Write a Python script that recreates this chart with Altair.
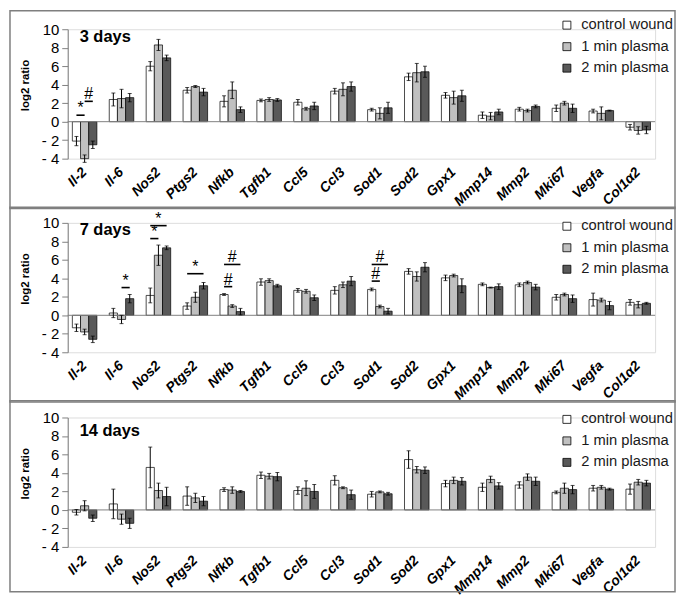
import altair as alt
import pandas as pd

genes = ["Il-2", "Il-6", "Nos2", "Ptgs2", "Nfkb", "Tgfb1", "Ccl5", "Ccl3",
         "Sod1", "Sod2", "Gpx1", "Mmp14", "Mmp2", "Mki67", "Vegfa", "Col1α2"]
series = ["control wound", "1 min plasma", "2 min plasma"]
series_colors = ["#ffffff", "#c0c0c0", "#595959"]
y_ticks = [-4, -2, 0, 2, 4, 6, 8, 10]

# ---- 3 days ----
d3_ctrl = [-2.1, 2.4, 6.0, 3.4, 2.2, 2.3, 2.1, 3.3, 1.3, 4.85, 2.85, 0.7, 1.35, 1.45, 1.15, -0.6]
d3_ctrl_err = [0.5, 0.7, 0.5, 0.3, 0.6, 0.15, 0.3, 0.3, 0.15, 0.4, 0.3, 0.35, 0.2, 0.35, 0.2, 0.3]
d3_p1 = [-4.0, 2.5, 8.3, 3.8, 3.4, 2.4, 1.4, 3.5, 0.9, 5.3, 2.6, 0.6, 1.2, 2.0, 0.9, -0.95]
d3_p1_err = [0.4, 1.0, 0.6, 0.1, 0.9, 0.2, 0.15, 0.7, 0.6, 1.0, 0.7, 0.4, 0.15, 0.2, 0.7, 0.4]
d3_p2 = [-2.5, 2.6, 6.9, 3.2, 1.3, 2.35, 1.7, 3.8, 1.5, 5.4, 2.8, 1.05, 1.65, 1.45, 1.2, -0.9]
d3_p2_err = [0.4, 0.45, 0.3, 0.4, 0.3, 0.15, 0.4, 0.5, 0.6, 0.6, 0.6, 0.3, 0.15, 0.45, 0.05, 0.4]

# ---- 7 days ----
d7_ctrl = [-1.35, 0.25, 2.15, 1.0, 2.25, 3.6, 2.7, 2.7, 2.8, 4.75, 4.05, 3.35, 3.3, 1.95, 1.7, 1.4]
d7_ctrl_err = [0.4, 0.5, 0.8, 0.35, 0.1, 0.35, 0.2, 0.4, 0.15, 0.3, 0.3, 0.15, 0.2, 0.3, 0.7, 0.3]
d7_p1 = [-1.8, -0.45, 6.5, 1.95, 1.0, 3.75, 2.6, 3.3, 0.95, 4.2, 4.3, 3.0, 3.55, 2.25, 1.65, 1.15]
d7_p1_err = [0.3, 0.45, 1.1, 0.55, 0.15, 0.2, 0.2, 0.3, 0.15, 0.5, 0.15, 0.05, 0.15, 0.15, 0.2, 0.35]
d7_p2 = [-2.6, 1.8, 7.3, 3.2, 0.4, 3.2, 1.9, 3.7, 0.45, 5.2, 3.2, 3.1, 3.05, 1.8, 1.05, 1.3]
d7_p2_err = [0.35, 0.45, 0.2, 0.35, 0.35, 0.15, 0.3, 0.5, 0.3, 0.5, 0.75, 0.3, 0.3, 0.4, 0.45, 0.1]

# ---- 14 days ----
d14_ctrl = [-0.25, 0.65, 4.6, 1.5, 2.2, 3.75, 2.1, 3.2, 1.7, 5.45, 2.85, 2.45, 2.7, 1.9, 2.35, 2.25]
d14_ctrl_err = [0.3, 1.6, 2.2, 1.0, 0.2, 0.35, 0.4, 0.5, 0.3, 0.95, 0.35, 0.45, 0.35, 0.15, 0.3, 0.55]
d14_p1 = [0.45, -1.0, 2.1, 1.3, 2.15, 3.65, 2.35, 2.4, 1.95, 4.35, 3.2, 3.3, 3.55, 2.35, 2.45, 3.0]
d14_p1_err = [0.55, 0.55, 0.8, 0.5, 0.35, 0.3, 0.8, 0.1, 0.1, 0.35, 0.35, 0.35, 0.35, 0.55, 0.2, 0.3]
d14_p2 = [-0.9, -1.45, 1.45, 0.95, 2.0, 3.6, 2.0, 1.65, 1.75, 4.3, 3.1, 2.6, 3.1, 2.2, 2.25, 2.9]
d14_p2_err = [0.35, 0.55, 1.0, 0.5, 0.1, 0.45, 0.75, 0.5, 0.15, 0.35, 0.4, 0.35, 0.45, 0.45, 0.1, 0.3]

# ---- significance marks ----
sig_panel = ["3 days", "3 days", "7 days", "7 days", "7 days", "7 days", "7 days", "7 days", "7 days", "7 days"]
sig_gene = ["Il-2", "Il-2", "Il-6", "Nos2", "Nos2", "Ptgs2", "Nfkb", "Nfkb", "Sod1", "Sod1"]
sig_from = ["control wound", "1 min plasma", "1 min plasma", "control wound", "control wound",
            "control wound", "control wound", "control wound", "control wound", "control wound"]
sig_to = ["1 min plasma", "2 min plasma", "2 min plasma", "1 min plasma", "2 min plasma",
          "2 min plasma", "1 min plasma", "2 min plasma", "1 min plasma", "2 min plasma"]
sig_level = [0.7, 2.2, 3.0, 8.3, 9.7, 4.5, 3.1, 5.5, 3.7, 5.5]
sig_symbol = ["*", "#", "*", "*", "*", "*", "#", "#", "#", "#"]

FONT = "Liberation Sans"
W, H = 590, 130
LEFT, RIGHT = 58, 20
HALF_BAR = W / (16 - 0.335 + 0.25) * 0.665 / 3 / 2
Y_LABEL_EXPR = "datum.value < 0 ? '- ' + (-datum.value) : datum.label"


def make_table(means, errs):
    rows = []
    for s, m_list, e_list in zip(series, means, errs):
        for g, m, e in zip(genes, m_list, e_list):
            rows.append({"gene": g, "series": s, "mean": m, "lo": m - e, "hi": m + e})
    return pd.DataFrame(rows)


def panel(name, means, errs, box_top, box_bottom, title_y, legend_y):
    df = make_table(means, errs)
    one = pd.DataFrame({"t": [name]})

    x_scale = alt.Scale(domain=genes, paddingInner=0.335, paddingOuter=0.125)
    x_axis = alt.Axis(labelAngle=-45, labelAlign="right", labelBaseline="middle",
                      labelFontSize=14, labelFontWeight="bold", labelFontStyle="italic",
                      labelColor="black", labelFont=FONT, domain=False, ticks=False,
                      labelPadding=11, labelOverlap=False)
    y_scale = alt.Scale(domain=[-4, 10], nice=False)
    y_axis = alt.Axis(values=y_ticks, labelExpr=Y_LABEL_EXPR,
                      labelFontSize=15, labelColor="black", labelFont=FONT, labelPadding=3,
                      labelOverlap=False,
                      tickSize=6, tickColor="#808080", domainColor="#808080", grid=False,
                      titleFontSize=11.5, titleFontWeight="bold", titleFont=FONT,
                      titleColor="black", titleX=-37, titleY=56, titleAngle=270,
                      titleAlign="center", titleBaseline="bottom")

    def X():
        return alt.X("gene:N", sort=genes, scale=x_scale, axis=x_axis, title=None)

    def XO():
        return alt.XOffset("series:N", sort=series,
                           scale=alt.Scale(domain=series, paddingInner=0, paddingOuter=0))

    def Y(field):
        return alt.Y(field, scale=y_scale, axis=y_axis, title="log2 ratio")

    legend = alt.Legend(orient="none", legendX=494, legendY=legend_y, title=None,
                        symbolType="square", symbolSize=64, symbolStrokeColor="black",
                        symbolStrokeWidth=0.8, labelFontSize=14.8, labelFont=FONT,
                        labelColor="#1a1a1a", rowPadding=5.6, labelOffset=7, padding=0)

    bars = alt.Chart(df).mark_bar(stroke="black", strokeWidth=0.7).encode(
        x=X(), xOffset=XO(),
        y=alt.Y("mean:Q", scale=y_scale, axis=y_axis, title="log2 ratio", stack=None),
        y2=alt.datum(0),
        color=alt.Color("series:N", sort=series,
                        scale=alt.Scale(domain=series, range=series_colors), legend=legend))

    box = alt.Chart(one).mark_rect(fill="white", fillOpacity=0, stroke="#7f7f7f",
                                   strokeWidth=1.5).encode(
        x=alt.value(-LEFT), x2=alt.value(W + RIGHT),
        y=alt.value(-box_top), y2=alt.value(H + box_bottom))

    zero = alt.Chart(one).mark_rule(color="#808080", strokeWidth=1).encode(
        y=alt.YDatum(0, scale=y_scale, axis=y_axis, title="log2 ratio"))

    err = alt.Chart(df).mark_rule(color="black", strokeWidth=1).encode(
        x=X(), xOffset=XO(), y=Y("lo:Q"), y2="hi:Q")
    cap_lo = alt.Chart(df).mark_tick(color="black", size=4, thickness=1).encode(
        x=X(), xOffset=XO(), y=Y("lo:Q"))
    cap_hi = alt.Chart(df).mark_tick(color="black", size=4, thickness=1).encode(
        x=X(), xOffset=XO(), y=Y("hi:Q"))

    title = alt.Chart(one).mark_text(align="left", baseline="middle", fontSize=16.5,
                                     fontWeight="bold", font=FONT, color="black").encode(
        x=alt.value(12), y=alt.value(title_y), text="t:N")

    layers = [bars, box, zero, err, cap_lo, cap_hi]

    line_rows, text_rows = [], []
    for i, (p, g, f, t, lv, sym) in enumerate(zip(sig_panel, sig_gene, sig_from, sig_to,
                                                   sig_level, sig_symbol)):
        if p != name:
            continue
        line_rows.append({"id": i, "gene": g, "series": f, "level": lv})
        line_rows.append({"id": i, "gene": g, "series": t, "level": lv})
        text_rows.append({"id": i, "gene": g, "series": f, "level": lv, "symbol": sym,
                          "span": series.index(t) - series.index(f)})
    if line_rows:
        ldf = pd.DataFrame(line_rows)
        tdf = pd.DataFrame(text_rows)
        lines = alt.Chart(ldf).mark_line(color="black", strokeWidth=1.6).encode(
            x=X(), xOffset=XO(), y=Y("level:Q"), detail="id:N")
        layers.append(lines)
        for span in (1, 2):
            txt = alt.Chart(tdf).transform_filter(f"datum.span == {span}").mark_text(
                dx=HALF_BAR * span, dy=-2, baseline="alphabetic", fontSize=16, font=FONT,
                color="black").encode(
                x=X(), xOffset=XO(), y=Y("level:Q"), text="symbol:N")
            layers.append(txt)
    layers.append(title)
    return alt.layer(*layers).properties(width=W, height=H)


p1 = panel("3 days", [d3_ctrl, d3_p1, d3_p2], [d3_ctrl_err, d3_p1_err, d3_p2_err],
           18.6, 50, 7.5, -11.5)
p2 = panel("7 days", [d7_ctrl, d7_p1, d7_p2], [d7_ctrl_err, d7_p1_err, d7_p2_err],
           15.7, 50, 7.2, -4)
p3 = panel("14 days", [d14_ctrl, d14_p1, d14_p2], [d14_ctrl_err, d14_p1_err, d14_p2_err],
           16.7, 45, 13.5, -5.5)

chart = alt.vconcat(p1, p2, p3, spacing=-4.5).resolve_scale(
    color="independent").resolve_legend(color="independent").properties(
    padding=0).configure_view(stroke="transparent").configure(font=FONT).configure_axisY(
    tickCount=8, labelExpr=Y_LABEL_EXPR, labelFontSize=15, labelColor="black",
    labelOverlap=False, labelPadding=3, tickSize=6, tickColor="#808080",
    domainColor="#808080", grid=False)

chart.save("out.html", embed_options={"renderer": "svg", "actions": False})
